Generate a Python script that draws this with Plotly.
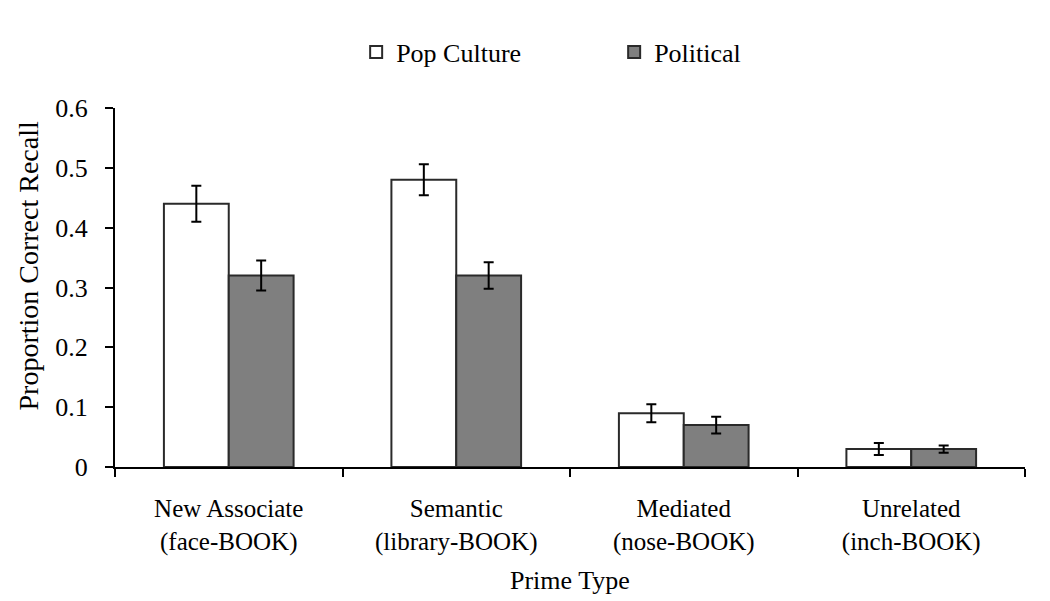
import plotly.graph_objects as go

categories = ["New Associate<br>(face-BOOK)", "Semantic<br>(library-BOOK)",
              "Mediated<br>(nose-BOOK)", "Unrelated<br>(inch-BOOK)"]
pop_values = [0.44, 0.48, 0.09, 0.03]
pop_errors = [0.030, 0.026, 0.015, 0.010]
pol_values = [0.32, 0.32, 0.07, 0.03]
pol_errors = [0.025, 0.022, 0.014, 0.006]
y_ticks = [0, 0.1, 0.2, 0.3, 0.4, 0.5, 0.6]
y_tick_labels = ["0", "0.1", "0.2", "0.3", "0.4", "0.5", "0.6"]

font_family = "Liberation Serif, Times New Roman, serif"

fig = go.Figure()
fig.add_trace(go.Bar(
    name="Pop Culture", x=categories, y=pop_values,
    marker=dict(color="white", line=dict(color="#2a2a2a", width=2)),
    error_y=dict(type="data", array=pop_errors, color="black", thickness=2, width=5),
))
fig.add_trace(go.Bar(
    name="Political", x=categories, y=pol_values,
    marker=dict(color="#7f7f7f", line=dict(color="#2a2a2a", width=2)),
    error_y=dict(type="data", array=pol_errors, color="black", thickness=2, width=5),
))

fig.update_layout(
    width=1050, height=601,
    barmode="group", bargap=0.43, bargroupgap=0,
    plot_bgcolor="white", paper_bgcolor="white",
    margin=dict(l=107, r=33, t=100, b=142, autoexpand=False),
    font=dict(family=font_family, size=25, color="black"),
    showlegend=True,
    legend=dict(orientation="h", x=0.265, xanchor="left", y=1.156, yanchor="middle",
                font=dict(size=26), itemwidth=30, entrywidth=213, entrywidthmode="pixels",
                traceorder="normal", bgcolor="rgba(0,0,0,0)"),
    xaxis=dict(
        automargin=False,
        showline=True, linecolor="black", linewidth=2,
        ticks="outside", tickson="boundaries", ticklen=8, tickcolor="black", tickwidth=2,
        tickfont=dict(size=25), ticklabelstandoff=18,
    ),
    yaxis=dict(
        automargin=False,
        range=[0, 0.6], tickvals=y_ticks, ticktext=y_tick_labels,
        showline=True, linecolor="black", linewidth=2,
        ticks="outside", ticklen=8, tickcolor="black", tickwidth=2,
        showgrid=False, zeroline=False, tickfont=dict(size=26), ticklabelstandoff=12,
    ),
    annotations=[
        dict(text="Prime Type", xref="paper", yref="paper", x=0.5, y=-0.315,
             xanchor="center", yanchor="middle", showarrow=False, font=dict(size=26)),
        dict(text="Proportion Correct Recall", xref="paper", yref="paper",
             x=-0.095, y=0.56, xanchor="center", yanchor="middle", textangle=-90,
             showarrow=False, font=dict(size=28)),
    ],
)

fig.write_html("out.html")
